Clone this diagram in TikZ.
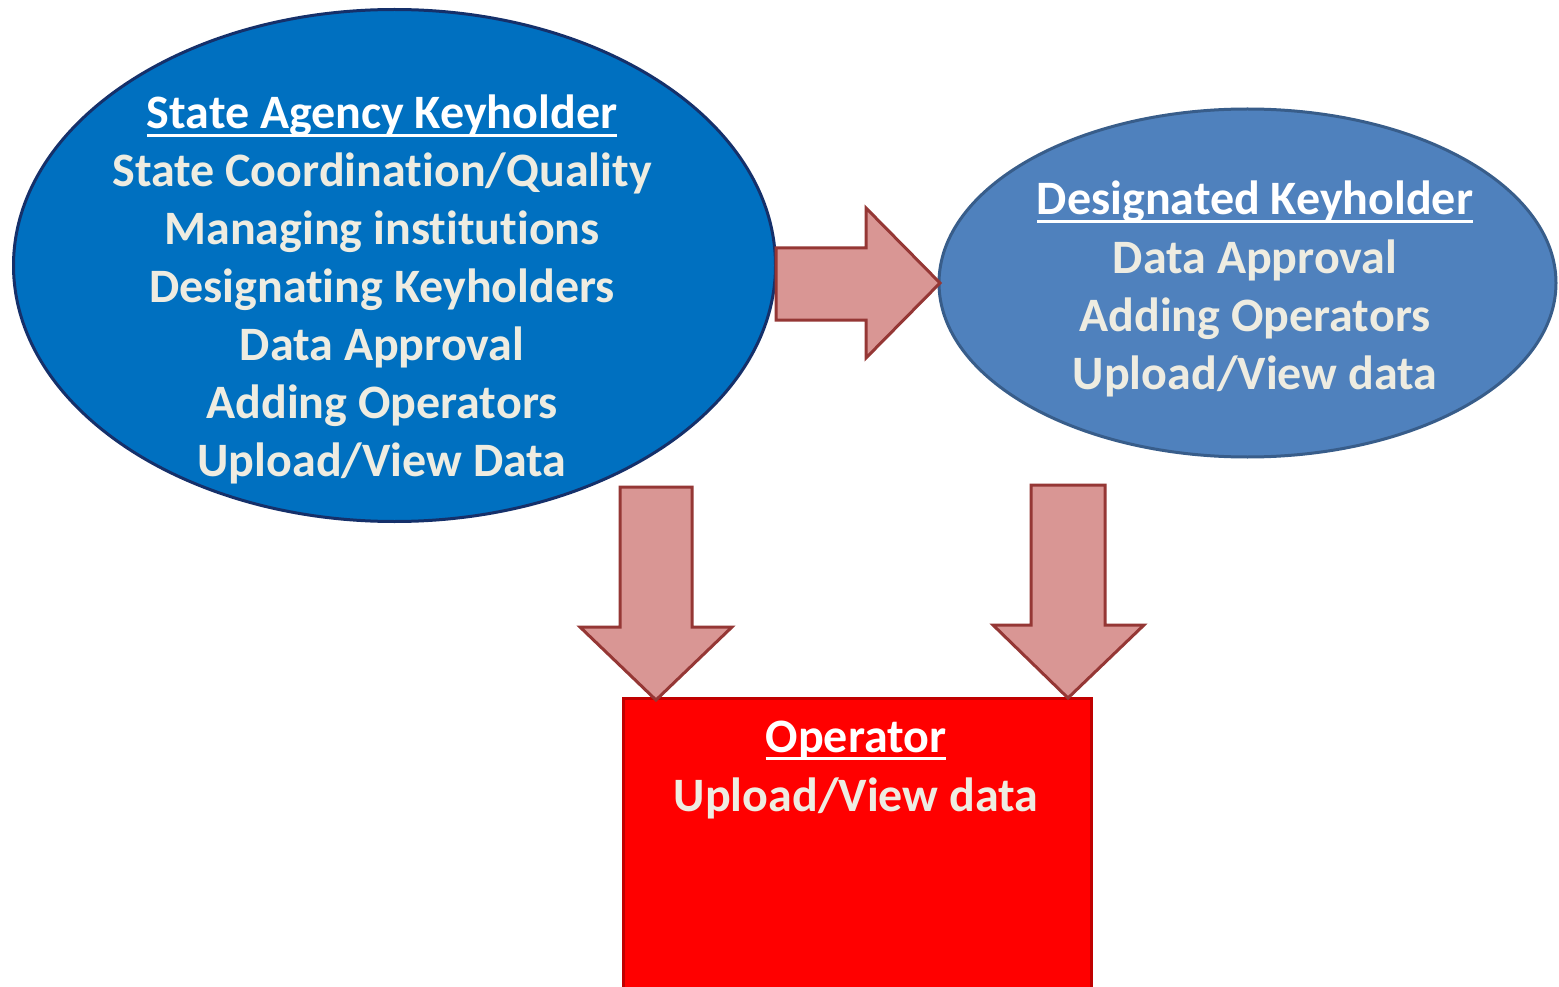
\documentclass[tikz,border=0pt]{standalone}
\usepackage{fontspec}
\setmainfont{Carlito}[Ligatures=NoCommon]
\usetikzlibrary{shapes.geometric}
\definecolor{sakfill}{HTML}{0070C0}
\definecolor{sakline}{HTML}{15306A}
\definecolor{dkfill}{HTML}{4F81BD}
\definecolor{dkline}{HTML}{385D8A}
\definecolor{arrfill}{HTML}{D99694}
\definecolor{arrline}{HTML}{953735}
\definecolor{opfill}{HTML}{FF0000}
\definecolor{opline}{HTML}{C00000}
\definecolor{textc}{HTML}{EEECE1}
\newcommand\hdul[1]{\setbox0\hbox{#1}\rlap{\color{white}\rule[-8pt]{\wd0}{2.6pt}}\box0}
\begin{document}
\begin{tikzpicture}[x=1pt,y=-1pt,
  txt/.style={font=\fontsize{48}{57}\selectfont\bfseries, text=textc, anchor=base, inner sep=0pt},
  hd/.style={txt, text=white},
  barrow/.style={fill=arrfill, draw=arrline, line width=3pt, line join=miter}]
\clip (0,0) rectangle (1559,987);
\fill[white] (0,0) rectangle (1559,987);
% shapes
\node[ellipse, draw=sakline, fill=sakfill, line width=3pt, minimum width=762pt, minimum height=512pt, inner sep=0pt] (sak) at (394.5,265.5) {};
\node[ellipse, draw=dkline, fill=dkfill, line width=3pt, minimum width=617pt, minimum height=348pt, inner sep=0pt] (dk) at (1247.5,283) {};
\draw[draw=opline, fill=opfill, line width=3pt] (623,698) rectangle (1091,1010);
\coordinate (op) at (857,698);
% block arrows
\draw[barrow] (776,248) -- (866,248) -- (866,208) -- (940,283) -- (866,358) -- (866,320) -- (776,320) -- cycle;
\draw[barrow] (620,487) -- (692,487) -- (692,627) -- (732,627) -- (656,700) -- (580,627) -- (620,627) -- cycle;
\draw[barrow] (1031,485) -- (1105,485) -- (1105,625) -- (1144,625) -- (1068,698) -- (993,625) -- (1031,625) -- cycle;
% texts: state agency keyholder
\node[hd] (s0) at (382,129) {\hdul{State Agency Keyholder}};
\node[txt] (s1) at (382,187) {State Coordination/Quality};
\node[txt] (s2) at (382,245) {Managing institutions};
\node[txt] (s3) at (382,302) {Designating Keyholders};
\node[txt] (s4) at (382,360) {Data Approval};
\node[txt] (s5) at (382,418) {Adding Operators};
\node[txt] (s6) at (382,476) {Upload/View Data};
% designated keyholder
\node[hd] (d0) at (1255,215) {\hdul{Designated Keyholder}};
\node[txt] (d1) at (1255,273) {Data Approval};
\node[txt] (d2) at (1255,331) {Adding Operators};
\node[txt] (d3) at (1255,389) {Upload/View data};
% operator
\node[hd] (o0) at (856,752) {\hdul{Operator}};
\node[txt] (o1) at (856,811) {Upload/View data};
\end{tikzpicture}
\end{document}
